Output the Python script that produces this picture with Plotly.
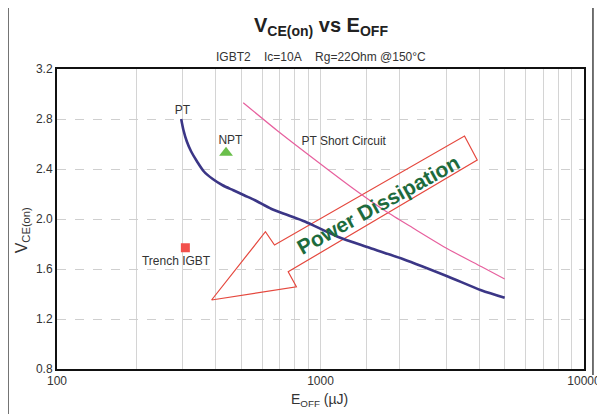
import numpy as np
import plotly.graph_objects as go

# ---- data ----
pt_eoff = [296, 302, 311, 323, 340, 361, 390, 425, 467, 513, 564, 652, 754, 872,
           1156, 1534, 2053, 3043, 4071, 5000]
pt_vce = [2.80, 2.71, 2.62, 2.54, 2.46, 2.38, 2.32, 2.27, 2.23, 2.19, 2.15, 2.08,
          2.03, 1.98, 1.86, 1.77, 1.68, 1.54, 1.43, 1.37]

ptsc_eoff = [509, 692, 918, 1338, 1775, 2236, 3043, 4071, 5000]
ptsc_vce = [2.93, 2.70, 2.50, 2.24, 2.06, 1.93, 1.76, 1.62, 1.52]

npt_eoff = [438]
npt_vce = [2.53]
trench_eoff = [307]
trench_vce = [1.77]

# arrow outline (decoration), in data units
arrow_eoff = [386, 618, 669, 3520, 3934, 754, 810, 386]
arrow_vce = [1.352, 1.898, 1.792, 2.664, 2.472, 1.578, 1.458, 1.352]
arrow_text_pos = (1657, 2.12)

x_tickvals = [100, 1000, 10000]
x_ticktext = ["100", "1000", "10000"]
x_minor = [200, 300, 400, 500, 600, 700, 800, 900, 1500,
           2000, 3000, 4000, 5000, 6000, 7000, 8000, 9000]
y_tickvals = [0.8, 1.2, 1.6, 2.0, 2.4, 2.8, 3.2]

NARROW = "Liberation Sans Narrow, Arial Narrow, sans-serif"
SANS = "Liberation Sans, Arial, sans-serif"

fig = go.Figure()

fig.add_trace(go.Scatter(x=arrow_eoff, y=arrow_vce, mode="lines",
                         line=dict(color="#e5483e", width=1.2),
                         hoverinfo="skip", showlegend=False))
fig.add_trace(go.Scatter(x=ptsc_eoff, y=ptsc_vce, mode="lines",
                         line=dict(color="#e7609e", width=1.2, shape="spline", smoothing=0.6),
                         showlegend=False))
fig.add_trace(go.Scatter(x=pt_eoff, y=pt_vce, mode="lines",
                         line=dict(color="#3b3686", width=2.6, shape="spline", smoothing=0.8),
                         showlegend=False))
fig.add_trace(go.Scatter(x=npt_eoff, y=npt_vce, mode="markers",
                         marker=dict(symbol="triangle-up", size=12, color="#6abf4b"),
                         showlegend=False))
fig.add_trace(go.Scatter(x=trench_eoff, y=trench_vce, mode="markers",
                         marker=dict(symbol="square", size=9, color="#f2504c"),
                         showlegend=False))

# curve labels
lbl_x = [299, 455, 1225, 283]
lbl_y = [2.865, 2.625, 2.615, 1.655]
lbl_t = ["PT", "NPT", "PT Short Circuit", "Trench IGBT"]
fig.add_trace(go.Scatter(x=lbl_x, y=lbl_y, mode="text", text=lbl_t,
                         textposition="middle center",
                         textfont=dict(family=SANS, size=12, color="#333333"),
                         hoverinfo="skip", showlegend=False))

fig.add_annotation(x=np.log10(arrow_text_pos[0]), y=arrow_text_pos[1],
                   xref="x", yref="y", text="<b>Power Dissipation</b>",
                   textangle=-29, showarrow=False,
                   xanchor="center", yanchor="middle",
                   font=dict(family=NARROW, size=21, color="#1d6b3d"))

# titles
fig.add_annotation(x=0.5, y=1.143, xref="paper", yref="paper",
                   text="<b>V<sub>CE(on)</sub> vs E<sub>OFF</sub></b>",
                   xanchor="center", yanchor="middle",
                   showarrow=False, font=dict(family=NARROW, size=20, color="#222222"))
fig.add_annotation(x=0.5, y=1.04, xref="paper", yref="paper",
                   text="IGBT2\u00a0\u00a0\u00a0\u00a0Ic=10A\u00a0\u00a0\u00a0\u00a0Rg=22Ohm\u00a0@150°C",
                   xanchor="center", yanchor="middle",
                   showarrow=False, font=dict(family=NARROW, size=12, color="#333333"))
fig.add_annotation(x=0.498, y=-0.103, xref="paper", yref="paper",
                   text="E<sub>OFF</sub> (µJ)",
                   xanchor="center", yanchor="middle",
                   showarrow=False, font=dict(family=NARROW, size=14, color="#333333"))
fig.add_annotation(x=-0.066, y=0.463, xref="paper", yref="paper",
                   text="V<sub>CE(on)</sub>", textangle=-90,
                   xanchor="center", yanchor="middle",
                   showarrow=False, font=dict(family=NARROW, size=16, color="#333333"))

# outer frame
fig.add_shape(type="path", xref="paper", yref="paper",
              path="M -0.093,-0.2 L -0.093,1.21 L 1.017,1.21 L 1.017,-0.02",
              line=dict(color="#444444", width=1.5))

fig.update_xaxes(type="log", range=[2, 4], tickvals=x_tickvals, ticktext=x_ticktext,
                 showgrid=True, gridcolor="#d4d4d4", gridwidth=1,
                 minor=dict(tickvals=x_minor, showgrid=True, gridcolor="#d4d4d4",
                            gridwidth=1, ticklen=0),
                 showline=True, linecolor="#111111", linewidth=2, mirror=True,
                 ticks="", tickfont=dict(family=NARROW, size=12, color="#333333"),
                 zeroline=False)
fig.update_yaxes(range=[0.8, 3.2], tickvals=y_tickvals, tickformat=".1f",
                 showgrid=True, gridcolor="#cfcfcf", gridwidth=1, griddash="dash",
                 showline=True, linecolor="#111111", linewidth=2, mirror=True,
                 ticks="", tickfont=dict(family=NARROW, size=12, color="#333333"),
                 zeroline=False)

# offsets chosen so the plot area lands at about x 54-592, y 69-369 in the page
fig.update_layout(width=605, height=414,
                  margin=dict(l=49, r=18, t=61, b=53),
                  paper_bgcolor="white", plot_bgcolor="white",
                  showlegend=False)

fig.write_html("out.html")
